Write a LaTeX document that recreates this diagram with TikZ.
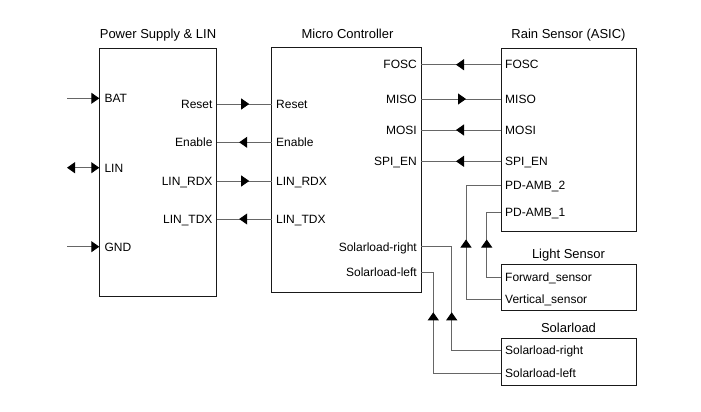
\documentclass[tikz,border=0pt]{standalone}
\usepackage{fontspec}
\setmainfont{Liberation Sans}
\usetikzlibrary{arrows.meta,decorations.markings}
\definecolor{linecol}{gray}{0.4}
\definecolor{boxcol}{gray}{0.1}
\tikzset{
  bk/.tip={Triangle[length=8pt,width=11pt,color=black]},
  blk/.style={draw=boxcol,line width=0.9pt,inner sep=0pt,outer sep=0pt,anchor=north west},
  ttl/.style={font=\fontsize{13}{15}\selectfont,text height=9.3pt,text depth=0pt,inner sep=0pt},
  lblw/.style={font=\fontsize{12}{14}\selectfont,text height=8.6pt,text depth=0pt,inner sep=0pt,anchor=west},
  lble/.style={font=\fontsize{12}{14}\selectfont,text height=8.6pt,text depth=0pt,inner sep=0pt,anchor=east},
  wire/.style={draw=linecol,line width=0.9pt},
  midarrow/.style={wire,postaction={decorate},decoration={markings,
     mark=at position 0.5 with {\arrow[xshift=5pt]{bk}}}},
  arrowat/.style={wire,postaction={decorate},decoration={markings,
     mark=at position #1 with {\arrow{bk}}}},
}
\begin{document}
\begin{tikzpicture}[x=1pt,y=-1pt]
\useasboundingbox (0,0) rectangle (701,412);
% boxes
\node[blk,minimum width=117.4pt,minimum height=247.7pt] (ps) at (99.3,48.3) {};
\node[blk,minimum width=149.3pt,minimum height=244.6pt] (mc) at (271.7,47.7) {};
\node[blk,minimum width=135.7pt,minimum height=183pt] (rs) at (501,48) {};
\node[blk,minimum width=135.7pt,minimum height=46.4pt] (ls) at (501,264.3) {};
\node[blk,minimum width=135.7pt,minimum height=47.4pt] (sl) at (501,338.3) {};
% titles
\node[ttl] (t-ps) at (158,34) {Power Supply \& LIN};
\node[ttl] (t-mc) at (347.5,34) {Micro Controller};
\node[ttl] (t-rs) at (568.5,34) {Rain Sensor (ASIC)};
\node[ttl] (t-ls) at (568.5,253.5) {Light Sensor};
\node[ttl] (t-sl) at (568.5,327.5) {Solarload};
% port coordinates
\coordinate (bat-in) at (67,98.3);   \coordinate (ps-bat) at (99.3,98.3);
\coordinate (lin-in) at (67,167.7);  \coordinate (ps-lin) at (99.3,167.7);
\coordinate (gnd-in) at (67,246.7);  \coordinate (ps-gnd) at (99.3,246.7);
\coordinate (ps-reset) at (216.7,104);  \coordinate (mc-reset) at (271.7,104);
\coordinate (ps-enable) at (216.7,142.3); \coordinate (mc-enable) at (271.7,142.3);
\coordinate (ps-rdx) at (216.7,181);  \coordinate (mc-rdx) at (271.7,181);
\coordinate (ps-tdx) at (216.7,219);  \coordinate (mc-tdx) at (271.7,219);
\coordinate (mc-fosc) at (421,64.7);  \coordinate (rs-fosc) at (501,64.7);
\coordinate (mc-miso) at (421,99);    \coordinate (rs-miso) at (501,99);
\coordinate (mc-mosi) at (421,130);   \coordinate (rs-mosi) at (501,130);
\coordinate (mc-spien) at (421,161.3); \coordinate (rs-spien) at (501,161.3);
\coordinate (rs-pd2) at (501,185);    \coordinate (rs-pd1) at (501,212);
\coordinate (ls-fwd) at (501,277.3);  \coordinate (ls-vert) at (501,299.3);
\coordinate (mc-slr) at (421,246.7);  \coordinate (mc-sll) at (421,272.3);
\coordinate (sl-r) at (501,350);      \coordinate (sl-l) at (501,373.3);
\coordinate (j-pd2) at (466,185);     \coordinate (j-pd1) at (486.7,212);
\coordinate (j-slr) at (451.7,246.7); \coordinate (j-sll) at (433.3,272.3);
% labels
\node[lblw] (l-bat) at (104.3,98.3) {BAT};
\node[lblw] (l-lin) at (104.3,167.7) {LIN};
\node[lblw] (l-gnd) at (104.3,246.7) {GND};
\node[lble] (l-ps-reset) at (212.7,104) {Reset};
\node[lble] (l-ps-enable) at (212.7,142.3) {Enable};
\node[lble] (l-ps-rdx) at (212.7,181) {LIN\_RDX};
\node[lble] (l-ps-tdx) at (212.7,219) {LIN\_TDX};
\node[lblw] (l-mc-reset) at (276,104) {Reset};
\node[lblw] (l-mc-enable) at (276,142.3) {Enable};
\node[lblw] (l-mc-rdx) at (276,181) {LIN\_RDX};
\node[lblw] (l-mc-tdx) at (276,219) {LIN\_TDX};
\node[lble] (l-mc-fosc) at (417,64.7) {FOSC};
\node[lble] (l-mc-miso) at (417,99) {MISO};
\node[lble] (l-mc-mosi) at (417,130) {MOSI};
\node[lble] (l-mc-spien) at (417,161.3) {SPI\_EN};
\node[lble] (l-mc-slr) at (417,246.7) {Solarload-right};
\node[lble] (l-mc-sll) at (417,272.3) {Solarload-left};
\node[lblw] (l-rs-fosc) at (505,64.7) {FOSC};
\node[lblw] (l-rs-miso) at (505,99) {MISO};
\node[lblw] (l-rs-mosi) at (505,130) {MOSI};
\node[lblw] (l-rs-spien) at (505,161.3) {SPI\_EN};
\node[lblw] (l-rs-pd2) at (505,185) {PD-AMB\_2};
\node[lblw] (l-rs-pd1) at (505,212) {PD-AMB\_1};
\node[lblw] (l-ls-fwd) at (505,277.3) {Forward\_sensor};
\node[lblw] (l-ls-vert) at (505,299.3) {Vertical\_sensor};
\node[lblw] (l-sl-r) at (505,350) {Solarload-right};
\node[lblw] (l-sl-l) at (505,373.3) {Solarload-left};
% connectors
\draw[wire,-{bk}] (bat-in) -- (ps-bat);
\draw[wire,{bk}-{bk}] (lin-in) -- (ps-lin);
\draw[wire,-{bk}] (gnd-in) -- (ps-gnd);
\draw[midarrow] (ps-reset) -- (mc-reset);
\draw[midarrow] (mc-enable) -- (ps-enable);
\draw[midarrow] (ps-rdx) -- (mc-rdx);
\draw[midarrow] (mc-tdx) -- (ps-tdx);
\draw[midarrow] (rs-fosc) -- (mc-fosc);
\draw[midarrow] (mc-miso) -- (rs-miso);
\draw[midarrow] (rs-mosi) -- (mc-mosi);
\draw[midarrow] (rs-spien) -- (mc-spien);
\draw[arrowat=94.8pt] (ls-vert) -| (j-pd2) -- (rs-pd2);
\draw[arrowat=52.1pt] (ls-fwd) -| (j-pd1) -- (rs-pd1);
\draw[arrowat=87pt] (sl-r) -| (j-slr) -- (mc-slr);
\draw[arrowat=128.7pt] (sl-l) -| (j-sll) -- (mc-sll);
\end{tikzpicture}
\end{document}
